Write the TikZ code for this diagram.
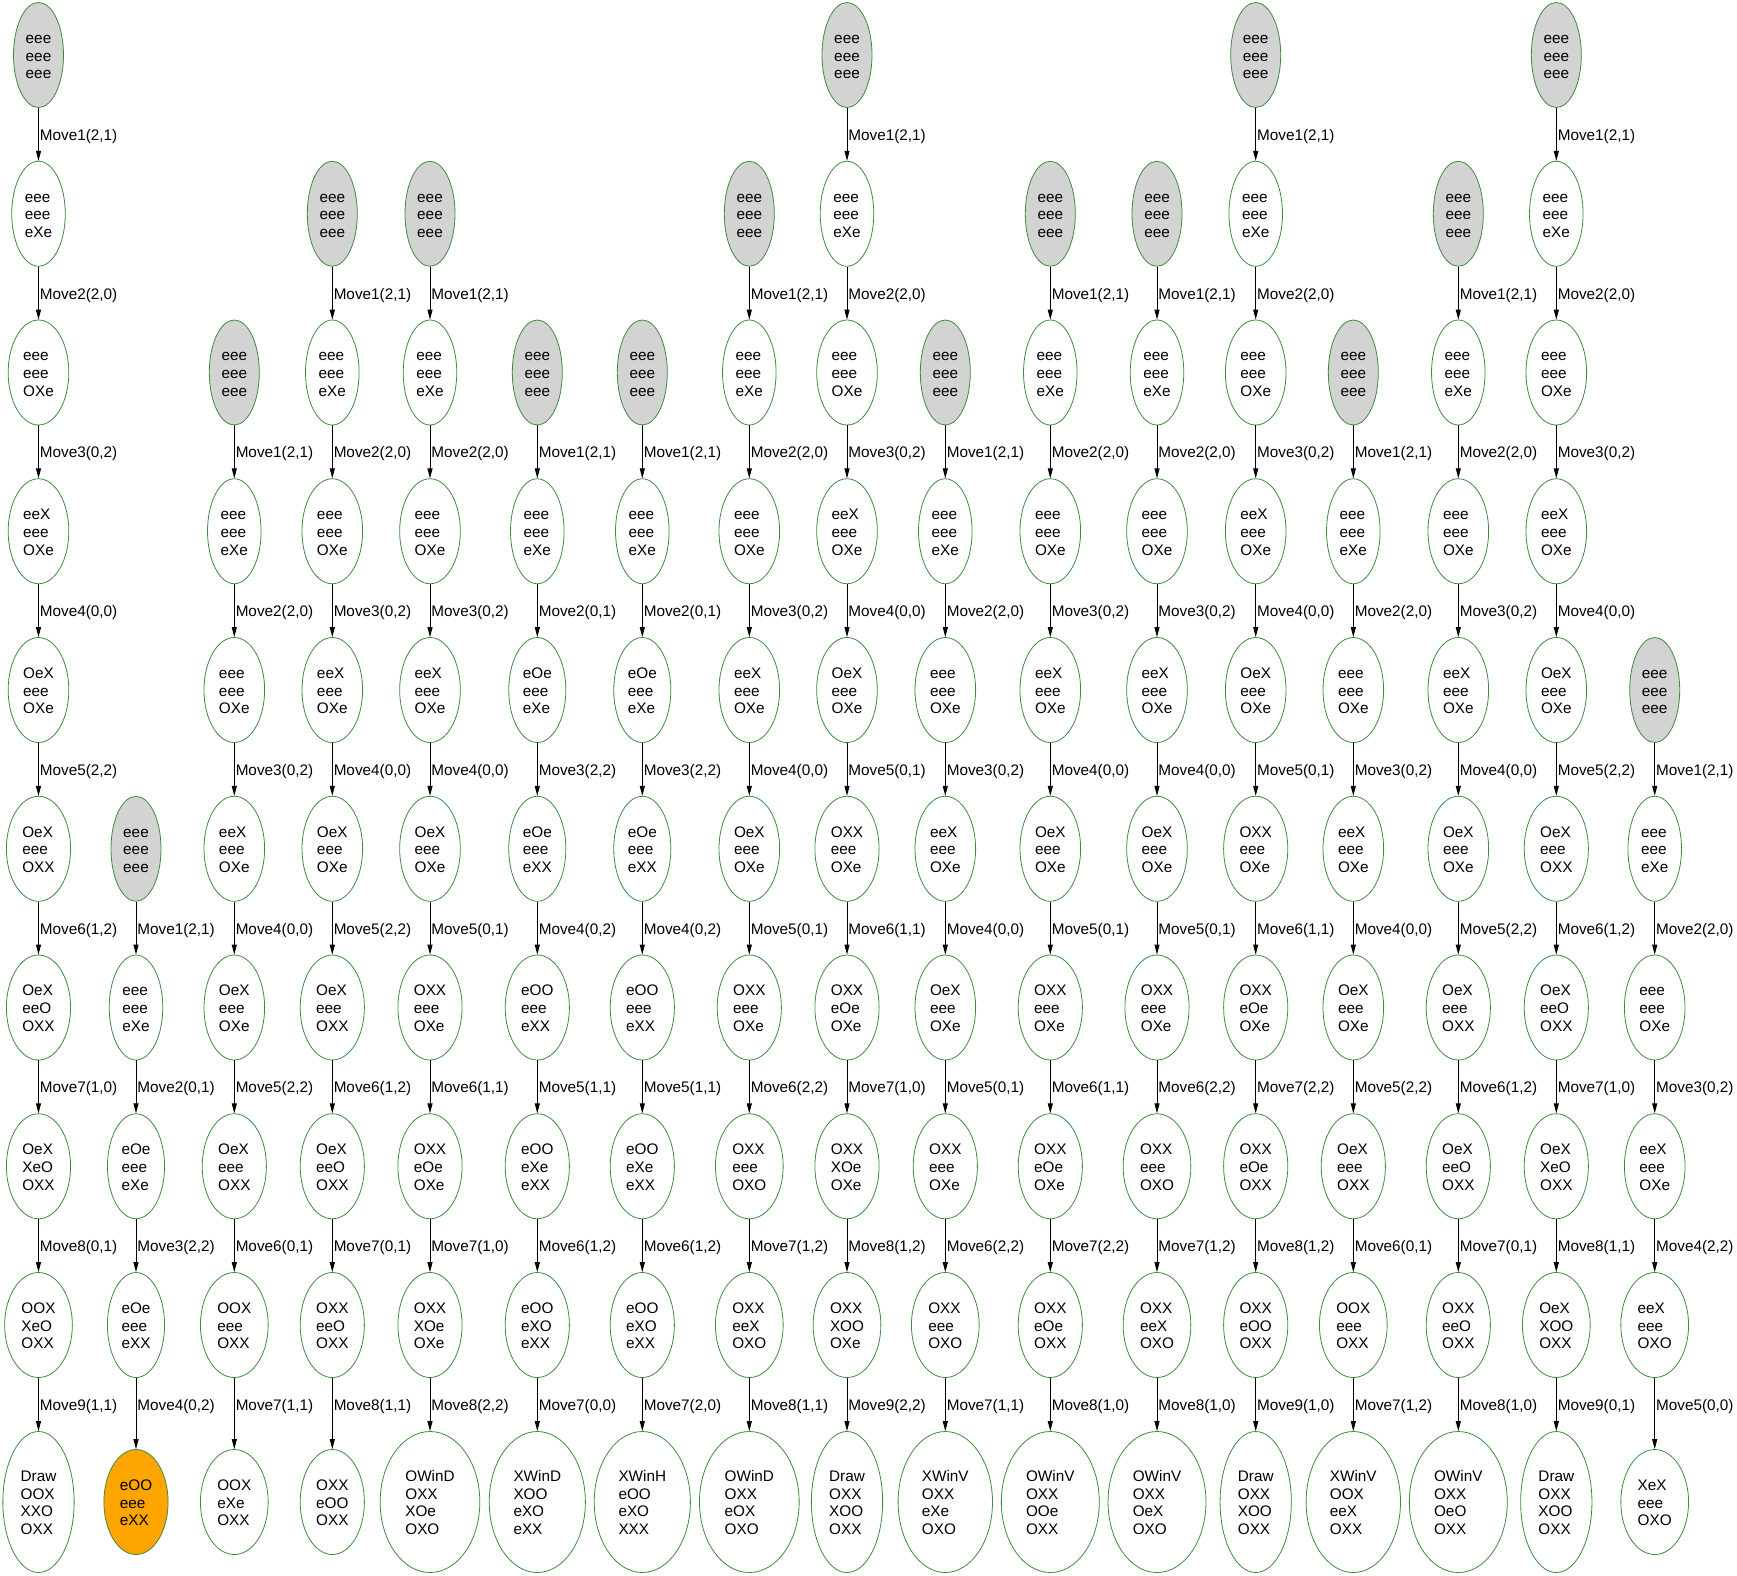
\documentclass[tikz,border=0pt]{standalone}
\usepackage{fontspec}
\setmainfont{Liberation Sans}
\usetikzlibrary{shapes.geometric,arrows.meta}
\definecolor{lg}{HTML}{D3D3D3}
\definecolor{og}{HTML}{FFA500}
\definecolor{bd}{HTML}{3D8B3D}
\newcommand\nf{\fontsize{15.3}{17.8}\selectfont}
\newcommand\nd[5][]{\node[st,#1] (#2) at (#3,#4) {\setbox0=\hbox{\begin{tabular}{@{}l@{}}#5\end{tabular}}\dimen2=1.478\wd0 \advance\dimen2 by -2.37pt \hbox to\dimen2{\hss\raisebox{-2.5pt}[\ht0][\dp0]{\copy0}\hss}};}
\newcommand\ed[3]{\draw[edge] (#1) -- node[lbl]{#3} (#2);}
\tikzset{
 st/.style={ellipse,draw=bd,line width=0.8pt,inner sep=0pt,minimum height=105pt,font=\nf},
 tall/.style={minimum height=141pt},
 gr/.style={fill=lg},
 orng/.style={fill=og},
 edge/.style={draw=black,line width=0.9pt,-{Triangle[length=10pt,width=5pt]}},
 lbl/.style={pos=0,anchor=west,yshift=-28.5pt,inner sep=1pt,font=\nf}
}
\begin{document}
\begin{tikzpicture}[x=1pt,y=1pt]
\useasboundingbox (0,0) rectangle (1737,-1575);
% Column 1
\nd[gr]{c1r1}{38.5}{-55}{eee\\eee\\eee}
\nd{c1r2}{38.5}{-213.75}{eee\\eee\\eXe}
\nd{c1r3}{38.5}{-372.5}{eee\\eee\\OXe}
\nd{c1r4}{38.5}{-531.25}{eeX\\eee\\OXe}
\nd{c1r5}{38.5}{-690}{OeX\\eee\\OXe}
\nd{c1r6}{38.5}{-848.75}{OeX\\eee\\OXX}
\nd{c1r7}{38.5}{-1007.5}{OeX\\eeO\\OXX}
\nd{c1r8}{38.5}{-1166.25}{OeX\\XeO\\OXX}
\nd{c1r9}{38.5}{-1325}{OOX\\XeO\\OXX}
\nd[tall]{c1r10}{38.5}{-1502}{Draw\\OOX\\XXO\\OXX}
\ed{c1r1}{c1r2}{Move1(2,1)}
\ed{c1r2}{c1r3}{Move2(2,0)}
\ed{c1r3}{c1r4}{Move3(0,2)}
\ed{c1r4}{c1r5}{Move4(0,0)}
\ed{c1r5}{c1r6}{Move5(2,2)}
\ed{c1r6}{c1r7}{Move6(1,2)}
\ed{c1r7}{c1r8}{Move7(1,0)}
\ed{c1r8}{c1r9}{Move8(0,1)}
\ed{c1r9}{c1r10}{Move9(1,1)}
% Column 2
\nd[gr]{c2r6}{136}{-848.75}{eee\\eee\\eee}
\nd{c2r7}{136}{-1007.5}{eee\\eee\\eXe}
\nd{c2r8}{136}{-1166.25}{eOe\\eee\\eXe}
\nd{c2r9}{136}{-1325}{eOe\\eee\\eXX}
\nd[orng]{c2r10}{136}{-1502}{eOO\\eee\\eXX}
\ed{c2r6}{c2r7}{Move1(2,1)}
\ed{c2r7}{c2r8}{Move2(0,1)}
\ed{c2r8}{c2r9}{Move3(2,2)}
\ed{c2r9}{c2r10}{Move4(0,2)}
% Column 3
\nd[gr]{c3r3}{234.3}{-372.5}{eee\\eee\\eee}
\nd{c3r4}{234.3}{-531.25}{eee\\eee\\eXe}
\nd{c3r5}{234.3}{-690}{eee\\eee\\OXe}
\nd{c3r6}{234.3}{-848.75}{eeX\\eee\\OXe}
\nd{c3r7}{234.3}{-1007.5}{OeX\\eee\\OXe}
\nd{c3r8}{234.3}{-1166.25}{OeX\\eee\\OXX}
\nd{c3r9}{234.3}{-1325}{OOX\\eee\\OXX}
\nd{c3r10}{234.3}{-1502}{OOX\\eXe\\OXX}
\ed{c3r3}{c3r4}{Move1(2,1)}
\ed{c3r4}{c3r5}{Move2(2,0)}
\ed{c3r5}{c3r6}{Move3(0,2)}
\ed{c3r6}{c3r7}{Move4(0,0)}
\ed{c3r7}{c3r8}{Move5(2,2)}
\ed{c3r8}{c3r9}{Move6(0,1)}
\ed{c3r9}{c3r10}{Move7(1,1)}
% Column 4
\nd[gr]{c4r2}{332.3}{-213.75}{eee\\eee\\eee}
\nd{c4r3}{332.3}{-372.5}{eee\\eee\\eXe}
\nd{c4r4}{332.3}{-531.25}{eee\\eee\\OXe}
\nd{c4r5}{332.3}{-690}{eeX\\eee\\OXe}
\nd{c4r6}{332.3}{-848.75}{OeX\\eee\\OXe}
\nd{c4r7}{332.3}{-1007.5}{OeX\\eee\\OXX}
\nd{c4r8}{332.3}{-1166.25}{OeX\\eeO\\OXX}
\nd{c4r9}{332.3}{-1325}{OXX\\eeO\\OXX}
\nd{c4r10}{332.3}{-1502}{OXX\\eOO\\OXX}
\ed{c4r2}{c4r3}{Move1(2,1)}
\ed{c4r3}{c4r4}{Move2(2,0)}
\ed{c4r4}{c4r5}{Move3(0,2)}
\ed{c4r5}{c4r6}{Move4(0,0)}
\ed{c4r6}{c4r7}{Move5(2,2)}
\ed{c4r7}{c4r8}{Move6(1,2)}
\ed{c4r8}{c4r9}{Move7(0,1)}
\ed{c4r9}{c4r10}{Move8(1,1)}
% Column 5
\nd[gr]{c5r2}{430}{-213.75}{eee\\eee\\eee}
\nd{c5r3}{430}{-372.5}{eee\\eee\\eXe}
\nd{c5r4}{430}{-531.25}{eee\\eee\\OXe}
\nd{c5r5}{430}{-690}{eeX\\eee\\OXe}
\nd{c5r6}{430}{-848.75}{OeX\\eee\\OXe}
\nd{c5r7}{430}{-1007.5}{OXX\\eee\\OXe}
\nd{c5r8}{430}{-1166.25}{OXX\\eOe\\OXe}
\nd{c5r9}{430}{-1325}{OXX\\XOe\\OXe}
\nd[tall]{c5r10}{430}{-1502}{OWinD\\OXX\\XOe\\OXO}
\ed{c5r2}{c5r3}{Move1(2,1)}
\ed{c5r3}{c5r4}{Move2(2,0)}
\ed{c5r4}{c5r5}{Move3(0,2)}
\ed{c5r5}{c5r6}{Move4(0,0)}
\ed{c5r6}{c5r7}{Move5(0,1)}
\ed{c5r7}{c5r8}{Move6(1,1)}
\ed{c5r8}{c5r9}{Move7(1,0)}
\ed{c5r9}{c5r10}{Move8(2,2)}
% Column 6
\nd[gr]{c6r3}{537.3}{-372.5}{eee\\eee\\eee}
\nd{c6r4}{537.3}{-531.25}{eee\\eee\\eXe}
\nd{c6r5}{537.3}{-690}{eOe\\eee\\eXe}
\nd{c6r6}{537.3}{-848.75}{eOe\\eee\\eXX}
\nd{c6r7}{537.3}{-1007.5}{eOO\\eee\\eXX}
\nd{c6r8}{537.3}{-1166.25}{eOO\\eXe\\eXX}
\nd{c6r9}{537.3}{-1325}{eOO\\eXO\\eXX}
\nd[tall]{c6r10}{537.3}{-1502}{XWinD\\XOO\\eXO\\eXX}
\ed{c6r3}{c6r4}{Move1(2,1)}
\ed{c6r4}{c6r5}{Move2(0,1)}
\ed{c6r5}{c6r6}{Move3(2,2)}
\ed{c6r6}{c6r7}{Move4(0,2)}
\ed{c6r7}{c6r8}{Move5(1,1)}
\ed{c6r8}{c6r9}{Move6(1,2)}
\ed{c6r9}{c6r10}{Move7(0,0)}
% Column 7
\nd[gr]{c7r3}{642.3}{-372.5}{eee\\eee\\eee}
\nd{c7r4}{642.3}{-531.25}{eee\\eee\\eXe}
\nd{c7r5}{642.3}{-690}{eOe\\eee\\eXe}
\nd{c7r6}{642.3}{-848.75}{eOe\\eee\\eXX}
\nd{c7r7}{642.3}{-1007.5}{eOO\\eee\\eXX}
\nd{c7r8}{642.3}{-1166.25}{eOO\\eXe\\eXX}
\nd{c7r9}{642.3}{-1325}{eOO\\eXO\\eXX}
\nd[tall]{c7r10}{642.3}{-1502}{XWinH\\eOO\\eXO\\XXX}
\ed{c7r3}{c7r4}{Move1(2,1)}
\ed{c7r4}{c7r5}{Move2(0,1)}
\ed{c7r5}{c7r6}{Move3(2,2)}
\ed{c7r6}{c7r7}{Move4(0,2)}
\ed{c7r7}{c7r8}{Move5(1,1)}
\ed{c7r8}{c7r9}{Move6(1,2)}
\ed{c7r9}{c7r10}{Move7(2,0)}
% Column 8
\nd[gr]{c8r2}{749.3}{-213.75}{eee\\eee\\eee}
\nd{c8r3}{749.3}{-372.5}{eee\\eee\\eXe}
\nd{c8r4}{749.3}{-531.25}{eee\\eee\\OXe}
\nd{c8r5}{749.3}{-690}{eeX\\eee\\OXe}
\nd{c8r6}{749.3}{-848.75}{OeX\\eee\\OXe}
\nd{c8r7}{749.3}{-1007.5}{OXX\\eee\\OXe}
\nd{c8r8}{749.3}{-1166.25}{OXX\\eee\\OXO}
\nd{c8r9}{749.3}{-1325}{OXX\\eeX\\OXO}
\nd[tall]{c8r10}{749.3}{-1502}{OWinD\\OXX\\eOX\\OXO}
\ed{c8r2}{c8r3}{Move1(2,1)}
\ed{c8r3}{c8r4}{Move2(2,0)}
\ed{c8r4}{c8r5}{Move3(0,2)}
\ed{c8r5}{c8r6}{Move4(0,0)}
\ed{c8r6}{c8r7}{Move5(0,1)}
\ed{c8r7}{c8r8}{Move6(2,2)}
\ed{c8r8}{c8r9}{Move7(1,2)}
\ed{c8r9}{c8r10}{Move8(1,1)}
% Column 9
\nd[gr]{c9r1}{847}{-55}{eee\\eee\\eee}
\nd{c9r2}{847}{-213.75}{eee\\eee\\eXe}
\nd{c9r3}{847}{-372.5}{eee\\eee\\OXe}
\nd{c9r4}{847}{-531.25}{eeX\\eee\\OXe}
\nd{c9r5}{847}{-690}{OeX\\eee\\OXe}
\nd{c9r6}{847}{-848.75}{OXX\\eee\\OXe}
\nd{c9r7}{847}{-1007.5}{OXX\\eOe\\OXe}
\nd{c9r8}{847}{-1166.25}{OXX\\XOe\\OXe}
\nd{c9r9}{847}{-1325}{OXX\\XOO\\OXe}
\nd[tall]{c9r10}{847}{-1502}{Draw\\OXX\\XOO\\OXX}
\ed{c9r1}{c9r2}{Move1(2,1)}
\ed{c9r2}{c9r3}{Move2(2,0)}
\ed{c9r3}{c9r4}{Move3(0,2)}
\ed{c9r4}{c9r5}{Move4(0,0)}
\ed{c9r5}{c9r6}{Move5(0,1)}
\ed{c9r6}{c9r7}{Move6(1,1)}
\ed{c9r7}{c9r8}{Move7(1,0)}
\ed{c9r8}{c9r9}{Move8(1,2)}
\ed{c9r9}{c9r10}{Move9(2,2)}
% Column 10
\nd[gr]{c10r3}{945.3}{-372.5}{eee\\eee\\eee}
\nd{c10r4}{945.3}{-531.25}{eee\\eee\\eXe}
\nd{c10r5}{945.3}{-690}{eee\\eee\\OXe}
\nd{c10r6}{945.3}{-848.75}{eeX\\eee\\OXe}
\nd{c10r7}{945.3}{-1007.5}{OeX\\eee\\OXe}
\nd{c10r8}{945.3}{-1166.25}{OXX\\eee\\OXe}
\nd{c10r9}{945.3}{-1325}{OXX\\eee\\OXO}
\nd[tall]{c10r10}{945.3}{-1502}{XWinV\\OXX\\eXe\\OXO}
\ed{c10r3}{c10r4}{Move1(2,1)}
\ed{c10r4}{c10r5}{Move2(2,0)}
\ed{c10r5}{c10r6}{Move3(0,2)}
\ed{c10r6}{c10r7}{Move4(0,0)}
\ed{c10r7}{c10r8}{Move5(0,1)}
\ed{c10r8}{c10r9}{Move6(2,2)}
\ed{c10r9}{c10r10}{Move7(1,1)}
% Column 11
\nd[gr]{c11r2}{1050.3}{-213.75}{eee\\eee\\eee}
\nd{c11r3}{1050.3}{-372.5}{eee\\eee\\eXe}
\nd{c11r4}{1050.3}{-531.25}{eee\\eee\\OXe}
\nd{c11r5}{1050.3}{-690}{eeX\\eee\\OXe}
\nd{c11r6}{1050.3}{-848.75}{OeX\\eee\\OXe}
\nd{c11r7}{1050.3}{-1007.5}{OXX\\eee\\OXe}
\nd{c11r8}{1050.3}{-1166.25}{OXX\\eOe\\OXe}
\nd{c11r9}{1050.3}{-1325}{OXX\\eOe\\OXX}
\nd[tall]{c11r10}{1050.3}{-1502}{OWinV\\OXX\\OOe\\OXX}
\ed{c11r2}{c11r3}{Move1(2,1)}
\ed{c11r3}{c11r4}{Move2(2,0)}
\ed{c11r4}{c11r5}{Move3(0,2)}
\ed{c11r5}{c11r6}{Move4(0,0)}
\ed{c11r6}{c11r7}{Move5(0,1)}
\ed{c11r7}{c11r8}{Move6(1,1)}
\ed{c11r8}{c11r9}{Move7(2,2)}
\ed{c11r9}{c11r10}{Move8(1,0)}
% Column 12
\nd[gr]{c12r2}{1157}{-213.75}{eee\\eee\\eee}
\nd{c12r3}{1157}{-372.5}{eee\\eee\\eXe}
\nd{c12r4}{1157}{-531.25}{eee\\eee\\OXe}
\nd{c12r5}{1157}{-690}{eeX\\eee\\OXe}
\nd{c12r6}{1157}{-848.75}{OeX\\eee\\OXe}
\nd{c12r7}{1157}{-1007.5}{OXX\\eee\\OXe}
\nd{c12r8}{1157}{-1166.25}{OXX\\eee\\OXO}
\nd{c12r9}{1157}{-1325}{OXX\\eeX\\OXO}
\nd[tall]{c12r10}{1157}{-1502}{OWinV\\OXX\\OeX\\OXO}
\ed{c12r2}{c12r3}{Move1(2,1)}
\ed{c12r3}{c12r4}{Move2(2,0)}
\ed{c12r4}{c12r5}{Move3(0,2)}
\ed{c12r5}{c12r6}{Move4(0,0)}
\ed{c12r6}{c12r7}{Move5(0,1)}
\ed{c12r7}{c12r8}{Move6(2,2)}
\ed{c12r8}{c12r9}{Move7(1,2)}
\ed{c12r9}{c12r10}{Move8(1,0)}
% Column 13
\nd[gr]{c13r1}{1255.7}{-55}{eee\\eee\\eee}
\nd{c13r2}{1255.7}{-213.75}{eee\\eee\\eXe}
\nd{c13r3}{1255.7}{-372.5}{eee\\eee\\OXe}
\nd{c13r4}{1255.7}{-531.25}{eeX\\eee\\OXe}
\nd{c13r5}{1255.7}{-690}{OeX\\eee\\OXe}
\nd{c13r6}{1255.7}{-848.75}{OXX\\eee\\OXe}
\nd{c13r7}{1255.7}{-1007.5}{OXX\\eOe\\OXe}
\nd{c13r8}{1255.7}{-1166.25}{OXX\\eOe\\OXX}
\nd{c13r9}{1255.7}{-1325}{OXX\\eOO\\OXX}
\nd[tall]{c13r10}{1255.7}{-1502}{Draw\\OXX\\XOO\\OXX}
\ed{c13r1}{c13r2}{Move1(2,1)}
\ed{c13r2}{c13r3}{Move2(2,0)}
\ed{c13r3}{c13r4}{Move3(0,2)}
\ed{c13r4}{c13r5}{Move4(0,0)}
\ed{c13r5}{c13r6}{Move5(0,1)}
\ed{c13r6}{c13r7}{Move6(1,1)}
\ed{c13r7}{c13r8}{Move7(2,2)}
\ed{c13r8}{c13r9}{Move8(1,2)}
\ed{c13r9}{c13r10}{Move9(1,0)}
% Column 14
\nd[gr]{c14r3}{1353.3}{-372.5}{eee\\eee\\eee}
\nd{c14r4}{1353.3}{-531.25}{eee\\eee\\eXe}
\nd{c14r5}{1353.3}{-690}{eee\\eee\\OXe}
\nd{c14r6}{1353.3}{-848.75}{eeX\\eee\\OXe}
\nd{c14r7}{1353.3}{-1007.5}{OeX\\eee\\OXe}
\nd{c14r8}{1353.3}{-1166.25}{OeX\\eee\\OXX}
\nd{c14r9}{1353.3}{-1325}{OOX\\eee\\OXX}
\nd[tall]{c14r10}{1353.3}{-1502}{XWinV\\OOX\\eeX\\OXX}
\ed{c14r3}{c14r4}{Move1(2,1)}
\ed{c14r4}{c14r5}{Move2(2,0)}
\ed{c14r5}{c14r6}{Move3(0,2)}
\ed{c14r6}{c14r7}{Move4(0,0)}
\ed{c14r7}{c14r8}{Move5(2,2)}
\ed{c14r8}{c14r9}{Move6(0,1)}
\ed{c14r9}{c14r10}{Move7(1,2)}
% Column 15
\nd[gr]{c15r2}{1458.3}{-213.75}{eee\\eee\\eee}
\nd{c15r3}{1458.3}{-372.5}{eee\\eee\\eXe}
\nd{c15r4}{1458.3}{-531.25}{eee\\eee\\OXe}
\nd{c15r5}{1458.3}{-690}{eeX\\eee\\OXe}
\nd{c15r6}{1458.3}{-848.75}{OeX\\eee\\OXe}
\nd{c15r7}{1458.3}{-1007.5}{OeX\\eee\\OXX}
\nd{c15r8}{1458.3}{-1166.25}{OeX\\eeO\\OXX}
\nd{c15r9}{1458.3}{-1325}{OXX\\eeO\\OXX}
\nd[tall]{c15r10}{1458.3}{-1502}{OWinV\\OXX\\OeO\\OXX}
\ed{c15r2}{c15r3}{Move1(2,1)}
\ed{c15r3}{c15r4}{Move2(2,0)}
\ed{c15r4}{c15r5}{Move3(0,2)}
\ed{c15r5}{c15r6}{Move4(0,0)}
\ed{c15r6}{c15r7}{Move5(2,2)}
\ed{c15r7}{c15r8}{Move6(1,2)}
\ed{c15r8}{c15r9}{Move7(0,1)}
\ed{c15r9}{c15r10}{Move8(1,0)}
% Column 16
\nd[gr]{c16r1}{1556.3}{-55}{eee\\eee\\eee}
\nd{c16r2}{1556.3}{-213.75}{eee\\eee\\eXe}
\nd{c16r3}{1556.3}{-372.5}{eee\\eee\\OXe}
\nd{c16r4}{1556.3}{-531.25}{eeX\\eee\\OXe}
\nd{c16r5}{1556.3}{-690}{OeX\\eee\\OXe}
\nd{c16r6}{1556.3}{-848.75}{OeX\\eee\\OXX}
\nd{c16r7}{1556.3}{-1007.5}{OeX\\eeO\\OXX}
\nd{c16r8}{1556.3}{-1166.25}{OeX\\XeO\\OXX}
\nd{c16r9}{1556.3}{-1325}{OeX\\XOO\\OXX}
\nd[tall]{c16r10}{1556.3}{-1502}{Draw\\OXX\\XOO\\OXX}
\ed{c16r1}{c16r2}{Move1(2,1)}
\ed{c16r2}{c16r3}{Move2(2,0)}
\ed{c16r3}{c16r4}{Move3(0,2)}
\ed{c16r4}{c16r5}{Move4(0,0)}
\ed{c16r5}{c16r6}{Move5(2,2)}
\ed{c16r6}{c16r7}{Move6(1,2)}
\ed{c16r7}{c16r8}{Move7(1,0)}
\ed{c16r8}{c16r9}{Move8(1,1)}
\ed{c16r9}{c16r10}{Move9(0,1)}
% Column 17
\nd[gr]{c17r5}{1654.7}{-690}{eee\\eee\\eee}
\nd{c17r6}{1654.7}{-848.75}{eee\\eee\\eXe}
\nd{c17r7}{1654.7}{-1007.5}{eee\\eee\\OXe}
\nd{c17r8}{1654.7}{-1166.25}{eeX\\eee\\OXe}
\nd{c17r9}{1654.7}{-1325}{eeX\\eee\\OXO}
\nd{c17r10}{1654.7}{-1502}{XeX\\eee\\OXO}
\ed{c17r5}{c17r6}{Move1(2,1)}
\ed{c17r6}{c17r7}{Move2(2,0)}
\ed{c17r7}{c17r8}{Move3(0,2)}
\ed{c17r8}{c17r9}{Move4(2,2)}
\ed{c17r9}{c17r10}{Move5(0,0)}
\end{tikzpicture}
\end{document}
